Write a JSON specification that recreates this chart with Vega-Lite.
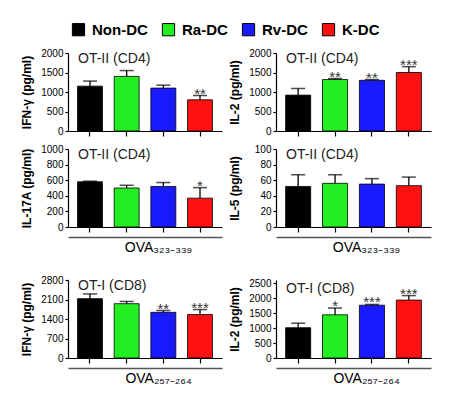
{
  "$schema": "https://vega.github.io/schema/vega-lite/v6.json",
  "padding": {"left": 20, "top": 22, "right": 5, "bottom": 5},
  "datasets": {
    "cyt": [
      {"panel": "p1", "group": "Non-DC", "mean": 1150, "upper": 1280, "sig": ""},
      {"panel": "p1", "group": "Ra-DC", "mean": 1400, "upper": 1550, "sig": ""},
      {"panel": "p1", "group": "Rv-DC", "mean": 1100, "upper": 1175, "sig": ""},
      {"panel": "p1", "group": "K-DC", "mean": 800, "upper": 910, "sig": "**"},
      {"panel": "p2", "group": "Non-DC", "mean": 920, "upper": 1090, "sig": ""},
      {"panel": "p2", "group": "Ra-DC", "mean": 1320, "upper": 1345, "sig": "**"},
      {"panel": "p2", "group": "Rv-DC", "mean": 1300, "upper": 1320, "sig": "**"},
      {"panel": "p2", "group": "K-DC", "mean": 1500, "upper": 1650, "sig": "***"},
      {"panel": "p3", "group": "Non-DC", "mean": 580, "upper": 588, "sig": ""},
      {"panel": "p3", "group": "Ra-DC", "mean": 500, "upper": 535, "sig": ""},
      {"panel": "p3", "group": "Rv-DC", "mean": 520, "upper": 570, "sig": ""},
      {"panel": "p3", "group": "K-DC", "mean": 370, "upper": 505, "sig": "*"},
      {"panel": "p4", "group": "Non-DC", "mean": 52, "upper": 67, "sig": ""},
      {"panel": "p4", "group": "Ra-DC", "mean": 56, "upper": 67, "sig": ""},
      {"panel": "p4", "group": "Rv-DC", "mean": 55, "upper": 62, "sig": ""},
      {"panel": "p4", "group": "K-DC", "mean": 53, "upper": 64, "sig": ""},
      {"panel": "p5", "group": "Non-DC", "mean": 2130, "upper": 2300, "sig": ""},
      {"panel": "p5", "group": "Ra-DC", "mean": 1950, "upper": 2030, "sig": ""},
      {"panel": "p5", "group": "Rv-DC", "mean": 1640, "upper": 1705, "sig": "**"},
      {"panel": "p5", "group": "K-DC", "mean": 1560, "upper": 1740, "sig": "***"},
      {"panel": "p6", "group": "Non-DC", "mean": 1010, "upper": 1160, "sig": ""},
      {"panel": "p6", "group": "Ra-DC", "mean": 1440, "upper": 1665, "sig": "*"},
      {"panel": "p6", "group": "Rv-DC", "mean": 1760, "upper": 1785, "sig": "***"},
      {"panel": "p6", "group": "K-DC", "mean": 1930, "upper": 2080, "sig": "***"}
    ]
  },
  "data": {"name": "cyt"},
  "spacing": 21,
  "vconcat": [
    {
      "spacing": 7,
      "vconcat": [
        {
          "spacing": 6,
          "hconcat": [
            {
              "width": 154, "height": 78,
              "title": {"text": "OT-II (CD4)"},
              "transform": [{"filter": "datum.panel == 'p1'"}],
              "encoding": {"x": {"field": "group", "type": "nominal", "sort": ["Non-DC", "Ra-DC", "Rv-DC", "K-DC"], "scale": {"paddingInner": 0.32, "paddingOuter": 0.26}, "axis": {"labels": false, "title": null, "tickSize": 5}}},
              "layer": [
                {"mark": {"type": "bar", "stroke": "black", "strokeWidth": 0.8},
                 "encoding": {
                   "y": {"field": "mean", "type": "quantitative", "scale": {"domain": [0, 2000]}, "axis": {"title": "IFN-γ (pg/ml)", "values": [0, 500, 1000, 1500, 2000], "tickCount": 10}},
                   "color": {"field": "group", "type": "nominal", "sort": ["Non-DC", "Ra-DC", "Rv-DC", "K-DC"], "scale": {"domain": ["Non-DC", "Ra-DC", "Rv-DC", "K-DC"], "range": ["#000000", "#22ee22", "#1a1aff", "#ff1111"]}, "legend": {"title": null}}
                 }},
                {"mark": {"type": "rule", "color": "black", "strokeWidth": 1.3},
                 "encoding": {"y": {"field": "upper", "type": "quantitative"}, "y2": {"field": "mean"}}},
                {"mark": {"type": "tick", "color": "black", "thickness": 1.5, "size": 14},
                 "encoding": {"y": {"field": "upper", "type": "quantitative"}}},
                {"mark": {"type": "text", "baseline": "alphabetic", "dy": 3, "fontSize": 15, "color": "#333"},
                 "encoding": {"y": {"field": "upper", "type": "quantitative"}, "text": {"field": "sig"}}}
              ]
            },
            {
              "width": 155, "height": 78,
              "title": {"text": "OT-II (CD4)"},
              "transform": [{"filter": "datum.panel == 'p2'"}],
              "encoding": {"x": {"field": "group", "type": "nominal", "sort": ["Non-DC", "Ra-DC", "Rv-DC", "K-DC"], "scale": {"paddingInner": 0.32, "paddingOuter": 0.26}, "axis": {"labels": false, "title": null, "tickSize": 5}}},
              "layer": [
                {"mark": {"type": "bar", "stroke": "black", "strokeWidth": 0.8},
                 "encoding": {
                   "y": {"field": "mean", "type": "quantitative", "scale": {"domain": [0, 2000]}, "axis": {"title": "IL-2 (pg/ml)", "values": [0, 500, 1000, 1500, 2000], "tickCount": 10}},
                   "color": {"field": "group", "type": "nominal", "sort": ["Non-DC", "Ra-DC", "Rv-DC", "K-DC"], "legend": {"title": null}}
                 }},
                {"mark": {"type": "rule", "color": "black", "strokeWidth": 1.3},
                 "encoding": {"y": {"field": "upper", "type": "quantitative"}, "y2": {"field": "mean"}}},
                {"mark": {"type": "tick", "color": "black", "thickness": 1.5, "size": 14},
                 "encoding": {"y": {"field": "upper", "type": "quantitative"}}},
                {"mark": {"type": "text", "baseline": "alphabetic", "dy": 3, "fontSize": 15, "color": "#333"},
                 "encoding": {"y": {"field": "upper", "type": "quantitative"}, "text": {"field": "sig"}}}
              ]
            }
          ]
        },
        {
          "spacing": 6,
          "hconcat": [
            {
              "width": 154, "height": 78,
              "title": {"text": "OT-II (CD4)"},
              "transform": [{"filter": "datum.panel == 'p3'"}],
              "resolve": {"axis": {"x": "independent"}},
              "layer": [
                {
                  "encoding": {"x": {"field": "group", "type": "nominal", "sort": ["Non-DC", "Ra-DC", "Rv-DC", "K-DC"], "scale": {"paddingInner": 0.32, "paddingOuter": 0.26}, "axis": {"labels": false, "title": null, "tickSize": 5}}},
                  "layer": [
                    {"mark": {"type": "bar", "stroke": "black", "strokeWidth": 0.8},
                     "encoding": {
                       "y": {"field": "mean", "type": "quantitative", "scale": {"domain": [0, 1000]}, "axis": {"title": "IL-17A (pg/ml)", "values": [0, 200, 400, 600, 800, 1000], "tickCount": 10}},
                       "color": {"field": "group", "type": "nominal", "sort": ["Non-DC", "Ra-DC", "Rv-DC", "K-DC"], "legend": {"title": null}}
                     }},
                    {"mark": {"type": "tick", "color": "black", "thickness": 1.5, "size": 14},
                     "encoding": {"y": {"field": "upper", "type": "quantitative"}}},
                    {"mark": {"type": "text", "baseline": "alphabetic", "dy": 3, "fontSize": 15, "color": "#333"},
                     "encoding": {"y": {"field": "upper", "type": "quantitative"}, "text": {"field": "sig"}}}
                  ]
                },
                {"mark": {"type": "rule", "color": "black", "strokeWidth": 1.3},
                 "encoding": {"x": {"field": "group", "type": "nominal", "sort": ["Non-DC", "Ra-DC", "Rv-DC", "K-DC"], "axis": {"orient": "bottom", "offset": 10, "labels": false, "ticks": false, "title": "OVA₃₂₃₋₃₃₉", "titleX": 90, "titleFontWeight": "normal", "titleFontSize": 14, "titlePadding": 3, "domainColor": "#555", "domainWidth": 1.5}}, "y": {"field": "upper", "type": "quantitative"}, "y2": {"field": "mean"}}}
              ]
            },
            {
              "width": 155, "height": 78,
              "title": {"text": "OT-II (CD4)"},
              "transform": [{"filter": "datum.panel == 'p4'"}],
              "resolve": {"axis": {"x": "independent"}},
              "layer": [
                {
                  "encoding": {"x": {"field": "group", "type": "nominal", "sort": ["Non-DC", "Ra-DC", "Rv-DC", "K-DC"], "scale": {"paddingInner": 0.32, "paddingOuter": 0.26}, "axis": {"labels": false, "title": null, "tickSize": 5}}},
                  "layer": [
                    {"mark": {"type": "bar", "stroke": "black", "strokeWidth": 0.8},
                     "encoding": {
                       "y": {"field": "mean", "type": "quantitative", "scale": {"domain": [0, 100]}, "axis": {"title": "IL-5 (pg/ml)", "values": [0, 20, 40, 60, 80, 100], "tickCount": 10}},
                       "color": {"field": "group", "type": "nominal", "sort": ["Non-DC", "Ra-DC", "Rv-DC", "K-DC"], "legend": {"title": null}}
                     }},
                    {"mark": {"type": "tick", "color": "black", "thickness": 1.5, "size": 14},
                     "encoding": {"y": {"field": "upper", "type": "quantitative"}}},
                    {"mark": {"type": "text", "baseline": "alphabetic", "dy": 3, "fontSize": 15, "color": "#333"},
                     "encoding": {"y": {"field": "upper", "type": "quantitative"}, "text": {"field": "sig"}}}
                  ]
                },
                {"mark": {"type": "rule", "color": "black", "strokeWidth": 1.3},
                 "encoding": {"x": {"field": "group", "type": "nominal", "sort": ["Non-DC", "Ra-DC", "Rv-DC", "K-DC"], "axis": {"orient": "bottom", "offset": 10, "labels": false, "ticks": false, "title": "OVA₃₂₃₋₃₃₉", "titleX": 90, "titleFontWeight": "normal", "titleFontSize": 14, "titlePadding": 3, "domainColor": "#555", "domainWidth": 1.5}}, "y": {"field": "upper", "type": "quantitative"}, "y2": {"field": "mean"}}}
              ]
            }
          ]
        }
      ]
    },
    {
      "spacing": 6,
      "hconcat": [
        {
          "width": 154, "height": 78,
          "title": {"text": "OT-I (CD8)"},
          "transform": [{"filter": "datum.panel == 'p5'"}],
          "resolve": {"axis": {"x": "independent"}},
          "layer": [
            {
              "encoding": {"x": {"field": "group", "type": "nominal", "sort": ["Non-DC", "Ra-DC", "Rv-DC", "K-DC"], "scale": {"paddingInner": 0.32, "paddingOuter": 0.26}, "axis": {"labels": false, "title": null, "tickSize": 5}}},
              "layer": [
                {"mark": {"type": "bar", "stroke": "black", "strokeWidth": 0.8},
                 "encoding": {
                   "y": {"field": "mean", "type": "quantitative", "scale": {"domain": [0, 2800]}, "axis": {"title": "IFN-γ (pg/ml)", "values": [0, 700, 1400, 2100, 2800], "tickCount": 10}},
                   "color": {"field": "group", "type": "nominal", "sort": ["Non-DC", "Ra-DC", "Rv-DC", "K-DC"], "legend": {"title": null}}
                 }},
                {"mark": {"type": "tick", "color": "black", "thickness": 1.5, "size": 14},
                 "encoding": {"y": {"field": "upper", "type": "quantitative"}}},
                {"mark": {"type": "text", "baseline": "alphabetic", "dy": 3, "fontSize": 15, "color": "#333"},
                 "encoding": {"y": {"field": "upper", "type": "quantitative"}, "text": {"field": "sig"}}}
              ]
            },
            {"mark": {"type": "rule", "color": "black", "strokeWidth": 1.3},
             "encoding": {"x": {"field": "group", "type": "nominal", "sort": ["Non-DC", "Ra-DC", "Rv-DC", "K-DC"], "axis": {"orient": "bottom", "offset": 10, "labels": false, "ticks": false, "title": "OVA₂₅₇₋₂₆₄", "titleX": 90, "titleFontWeight": "normal", "titleFontSize": 14, "titlePadding": 3, "domainColor": "#555", "domainWidth": 1.5}}, "y": {"field": "upper", "type": "quantitative"}, "y2": {"field": "mean"}}}
          ]
        },
        {
          "width": 155, "height": 78,
          "title": {"text": "OT-I (CD8)"},
          "transform": [{"filter": "datum.panel == 'p6'"}],
          "resolve": {"axis": {"x": "independent"}},
          "layer": [
            {
              "encoding": {"x": {"field": "group", "type": "nominal", "sort": ["Non-DC", "Ra-DC", "Rv-DC", "K-DC"], "scale": {"paddingInner": 0.32, "paddingOuter": 0.26}, "axis": {"labels": false, "title": null, "tickSize": 5}}},
              "layer": [
                {"mark": {"type": "bar", "stroke": "black", "strokeWidth": 0.8},
                 "encoding": {
                   "y": {"field": "mean", "type": "quantitative", "scale": {"domain": [0, 2500]}, "axis": {"title": "IL-2 (pg/ml)", "values": [0, 500, 1000, 1500, 2000, 2500], "tickCount": 10}},
                   "color": {"field": "group", "type": "nominal", "sort": ["Non-DC", "Ra-DC", "Rv-DC", "K-DC"], "legend": {"title": null}}
                 }},
                {"mark": {"type": "tick", "color": "black", "thickness": 1.5, "size": 14},
                 "encoding": {"y": {"field": "upper", "type": "quantitative"}}},
                {"mark": {"type": "text", "baseline": "alphabetic", "dy": 3, "fontSize": 15, "color": "#333"},
                 "encoding": {"y": {"field": "upper", "type": "quantitative"}, "text": {"field": "sig"}}}
              ]
            },
            {"mark": {"type": "rule", "color": "black", "strokeWidth": 1.3},
             "encoding": {"x": {"field": "group", "type": "nominal", "sort": ["Non-DC", "Ra-DC", "Rv-DC", "K-DC"], "axis": {"orient": "bottom", "offset": 10, "labels": false, "ticks": false, "title": "OVA₂₅₇₋₂₆₄", "titleX": 90, "titleFontWeight": "normal", "titleFontSize": 14, "titlePadding": 3, "domainColor": "#555", "domainWidth": 1.5}}, "y": {"field": "upper", "type": "quantitative"}, "y2": {"field": "mean"}}}
          ]
        }
      ]
    }
  ],
  "config": {
    "font": "Liberation Sans",
    "view": {"stroke": null},
    "axis": {"domainColor": "black", "tickColor": "black", "labelColor": "black", "titleColor": "black", "labelFontSize": 10, "titleFontSize": 12, "titleFontWeight": "bold", "grid": false, "domainWidth": 1.2, "tickWidth": 1.2},
    "axisY": {"tickSize": 3, "labelPadding": 2, "minExtent": 30, "titlePadding": 5, "format": "d", "labelOverlap": false, "labelFlush": false},
    "title": {"anchor": "start", "frame": "group", "offset": -18, "dx": 10, "fontSize": 14, "fontWeight": "normal", "color": "#222", "baseline": "top"},
    "legend": {"orient": "top", "direction": "horizontal", "symbolType": "square", "symbolSize": 150, "symbolStrokeColor": "black", "symbolStrokeWidth": 1, "symbolOpacity": 1, "labelFontSize": 15, "labelFontWeight": "bold", "labelColor": "black", "columnPadding": 12, "labelOffset": 6, "offset": 10, "layout": {"top": {"anchor": "middle"}}}
  }
}
